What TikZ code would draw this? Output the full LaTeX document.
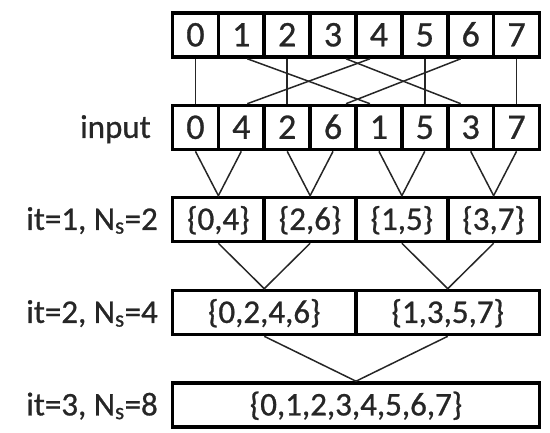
\documentclass[tikz,border=0pt]{standalone}
\usepackage{fontspec}
\setmainfont{Carlito}[FakeBold=0.8]
\begin{document}
\begin{tikzpicture}[x=1pt,y=-1pt,
  cell/.style={draw=black,line width=3.6pt,inner sep=0pt,
    minimum height=44pt,text height=20.8pt,text depth=0pt,
    font=\fontsize{33}{36}\selectfont,text=black!85},
  bigdigit/.style={font=\fontsize{36}{40}\selectfont,text height=22.7pt},
  rowlabel/.style={anchor=east,inner sep=0pt,text height=20.8pt,text depth=0pt,
    font=\fontsize{33}{36}\selectfont,text=black!85},
  link/.style={draw=black!85,line width=1.5pt}]
\useasboundingbox (0,0) rectangle (550,433);
\def\cw{45.875}
% top row: indices in natural order
\foreach \v [count=\i from 0] in {0,1,2,3,4,5,6,7}
  \node[cell,bigdigit,minimum width=\cw pt] (a\i) at ({172.5+\cw*(\i+0.5)},35) {\v};
% input row: bit-reversed order
\foreach \v [count=\i from 0] in {0,4,2,6,1,5,3,7}
  \node[cell,bigdigit,minimum width=\cw pt] (b\i) at ({172.5+\cw*(\i+0.5)},127.5) {\v};
% it = 1
\foreach \v [count=\i from 0] in {{\{0,4\}},{\{2,6\}},{\{1,5\}},{\{3,7\}}}
  \node[cell,minimum width=2*\cw pt] (c\i) at ({172.5+2*\cw*(\i+0.5)},219.5) {\v};
% it = 2
\node[cell,minimum width=4*\cw pt] (d0) at ({172.5+4*\cw*0.5},312.5) {\{0,2,4,6\}};
\node[cell,minimum width=4*\cw pt] (d1) at ({172.5+4*\cw*1.5},312.5) {\{1,3,5,7\}};
% it = 3
\node[cell,minimum width=8*\cw pt] (e) at ({172.5+4*\cw},405) {\{0,1,2,3,4,5,6,7\}};
% row labels
\node[rowlabel] (lin) at (151,127.5) {input};
\node[rowlabel] (l1) at (158,219.5) {it=1, N\textsubscript{s}=2};
\node[rowlabel] (l2) at (158,312.5) {it=2, N\textsubscript{s}=4};
\node[rowlabel] (l3) at (158,405) {it=3, N\textsubscript{s}=8};
% bit-reversal permutation
\draw[link] (a0.south) -- (b0.north);
\draw[link] (a2.south) -- (b2.north);
\draw[link] (a5.south) -- (b5.north);
\draw[link] (a7.south) -- (b7.north);
\draw[link] ([xshift=6pt]a1.south) -- ([xshift=-9pt]b4.north);
\draw[link] ([xshift=-9pt]a4.south) -- ([xshift=6pt]b1.north);
\draw[link] ([xshift=13pt]a3.south) -- ([xshift=-10pt]b6.north);
\draw[link] ([xshift=-10pt]a6.south) -- ([xshift=13pt]b3.north);
% merges
\foreach \k in {0,1,2,3}{
  \pgfmathtruncatemacro\p{2*\k}\pgfmathtruncatemacro\q{2*\k+1}
  \draw[link] (b\p.south) -- (c\k.north) -- (b\q.south);
}
\draw[link] (c0.south) -- (d0.north) -- (c1.south);
\draw[link] (c2.south) -- (d1.north) -- (c3.south);
\draw[link] (d0.south) -- (e.north) -- (d1.south);
\end{tikzpicture}
\end{document}
